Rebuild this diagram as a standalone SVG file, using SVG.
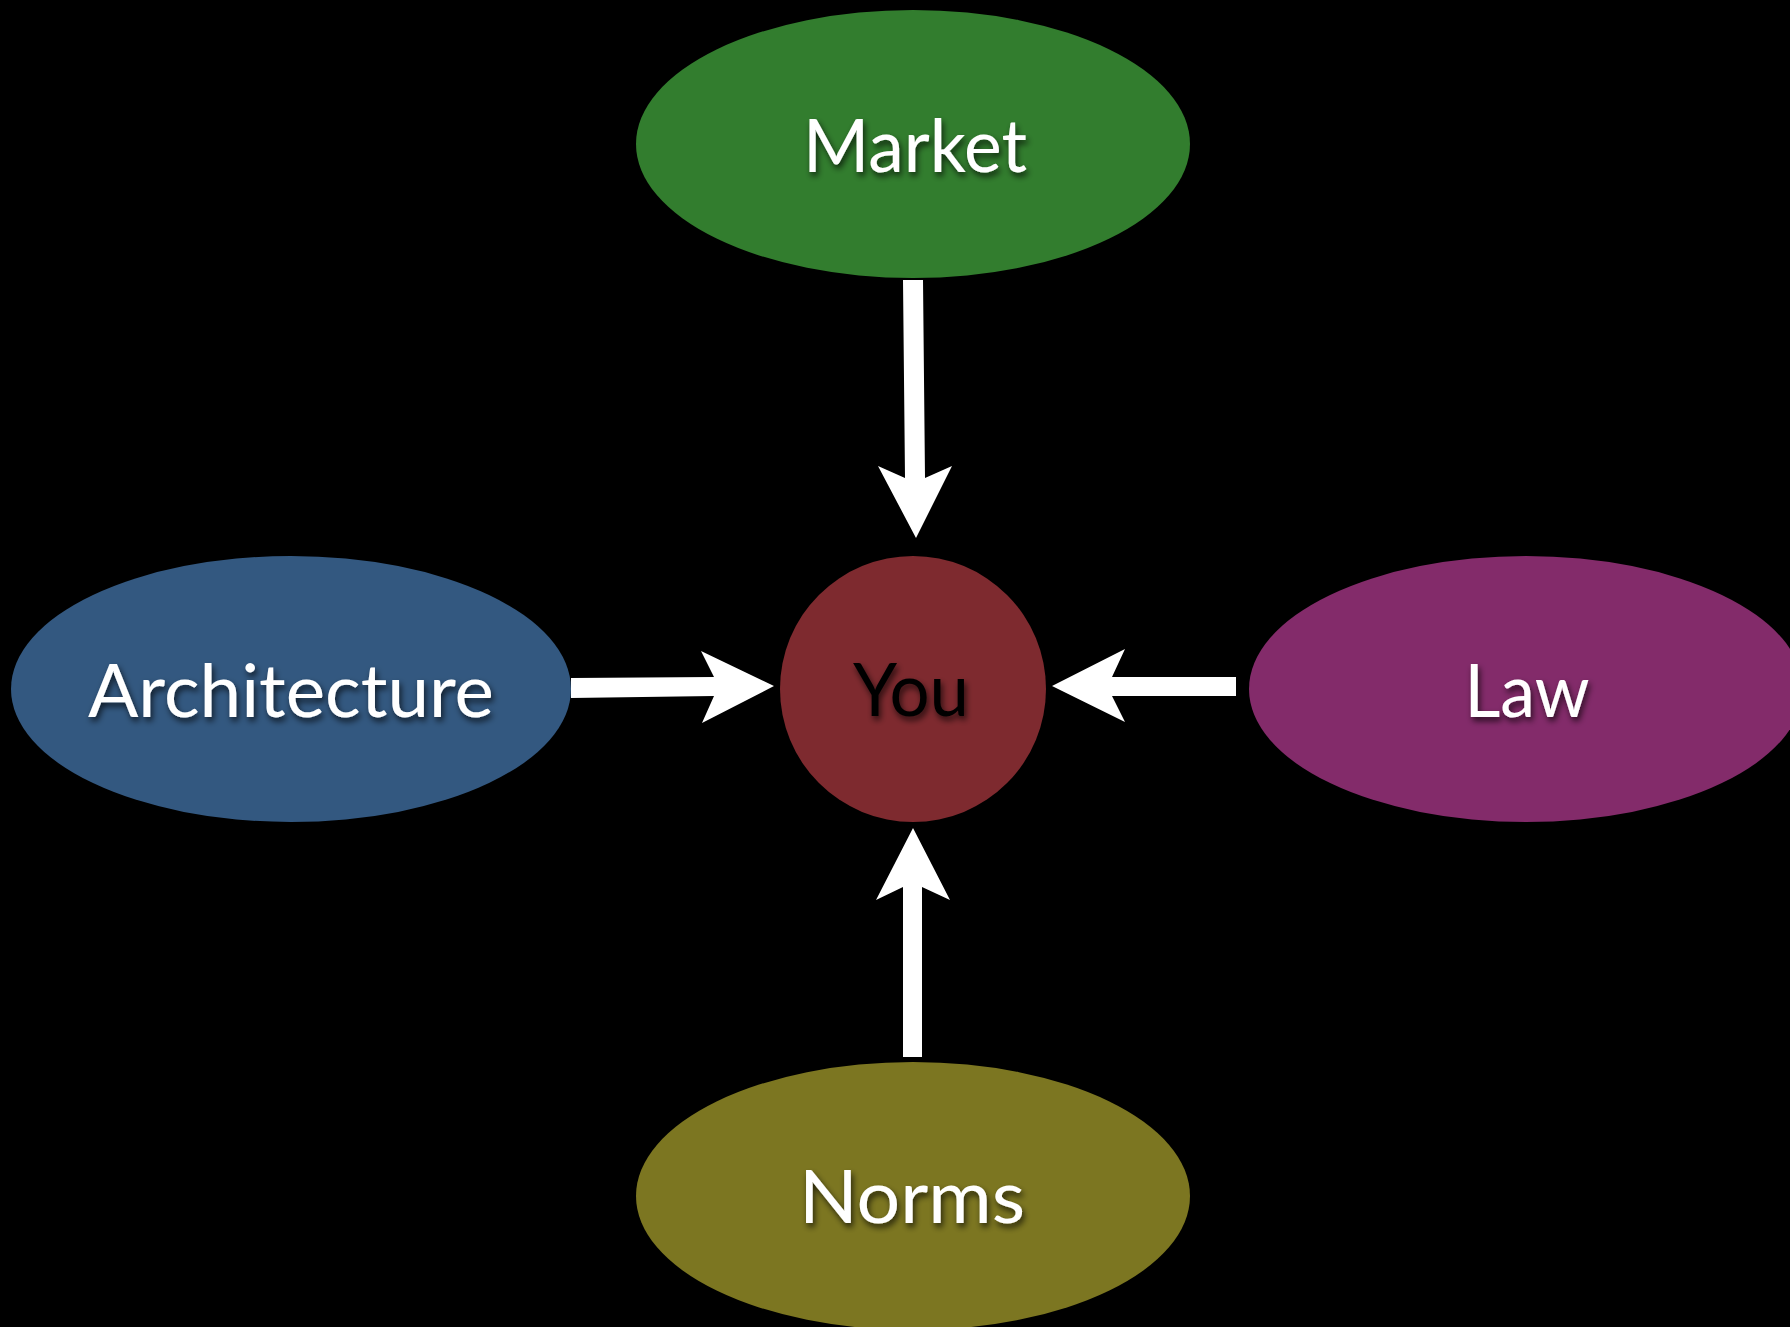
<svg xmlns="http://www.w3.org/2000/svg" width="1790" height="1327" viewBox="0 0 1790 1327">
<defs>
<filter id="sh" x="-20%" y="-30%" width="140%" height="160%">
<feDropShadow dx="2" dy="4" stdDeviation="3" flood-color="#000" flood-opacity="0.7"/>
</filter>
<style>
.lbl{font-family:"Lato","Liberation Sans",sans-serif;font-size:74px;text-anchor:middle;filter:url(#sh)}
.w{fill:#fff}
.k{fill:#000}
.arr{fill:#fff}
</style>
</defs>
<rect width="1790" height="1327" fill="#000"/>
<g id="market"><ellipse cx="913" cy="144" rx="277" ry="134" fill="#327D2E"/><text class="lbl w" x="915" y="172" textLength="224" lengthAdjust="spacingAndGlyphs">Market</text></g>
<g id="architecture"><ellipse cx="291" cy="689" rx="280" ry="133" fill="#335880"/><text class="lbl w" x="291" y="717" textLength="406" lengthAdjust="spacingAndGlyphs">Architecture</text></g>
<g id="you"><circle cx="913" cy="689" r="133" fill="#7E2A2F"/><text class="lbl k" x="911" y="716" textLength="116" lengthAdjust="spacingAndGlyphs">You</text></g>
<g id="law"><ellipse cx="1526" cy="689" rx="277" ry="133" fill="#832B6A"/><text class="lbl w" x="1527" y="717" textLength="125" lengthAdjust="spacingAndGlyphs">Law</text></g>
<g id="norms"><ellipse cx="913" cy="1196" rx="277" ry="134" fill="#7C7621"/><text class="lbl w" x="912" y="1223" textLength="226" lengthAdjust="spacingAndGlyphs">Norms</text></g>
<g id="connectors">
<path class="arr" d="M903,280 L923,280 L925,478 L952,466 L916,538 L878,466 L905,478 Z"/>
<path class="arr" d="M571,678 L714,677 L701,651 L774,686 L702,723 L714,696 L571,698 Z"/>
<path class="arr" d="M1236,677 L1112,677 L1125,649 L1052,686 L1125,722 L1112,696 L1236,696 Z"/>
<path class="arr" d="M903,1057 L903,887 L876,900 L913,828 L950,900 L922,887 L922,1057 Z"/>
</g>
</svg>
